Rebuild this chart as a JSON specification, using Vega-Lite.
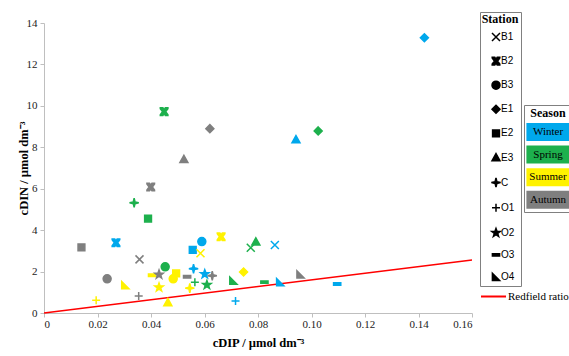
{
  "$schema": "https://vega.github.io/schema/vega-lite/v6.json",
  "width": 428,
  "height": 290,
  "autosize": "none",
  "padding": {"left": 44, "top": 23, "right": 97, "bottom": 43},
  "background": "white",
  "config": {"view": {"stroke": null}, "font": "Liberation Serif"},
  "datasets": {
    "points": [
      {"Station": "B1", "Season": "Winter", "DIP": 0.0863, "DIN": 3.28},
      {"Station": "B2", "Season": "Winter", "DIP": 0.0269, "DIN": 3.39},
      {"Station": "B3", "Season": "Winter", "DIP": 0.0590, "DIN": 3.45},
      {"Station": "E1", "Season": "Winter", "DIP": 0.1422, "DIN": 13.29},
      {"Station": "E2", "Season": "Winter", "DIP": 0.0556, "DIN": 3.05},
      {"Station": "E3", "Season": "Winter", "DIP": 0.0942, "DIN": 8.37},
      {"Station": "C", "Season": "Winter", "DIP": 0.0559, "DIN": 2.14},
      {"Station": "O1", "Season": "Winter", "DIP": 0.0716, "DIN": 0.58},
      {"Station": "O2", "Season": "Winter", "DIP": 0.0601, "DIN": 1.88},
      {"Station": "O3", "Season": "Winter", "DIP": 0.1096, "DIN": 1.40},
      {"Station": "O4", "Season": "Winter", "DIP": 0.0883, "DIN": 1.49},
      {"Station": "B1", "Season": "Spring", "DIP": 0.0773, "DIN": 3.15},
      {"Station": "B2", "Season": "Spring", "DIP": 0.0449, "DIN": 9.72},
      {"Station": "B3", "Season": "Spring", "DIP": 0.0453, "DIN": 2.23},
      {"Station": "E1", "Season": "Spring", "DIP": 0.1025, "DIN": 8.79},
      {"Station": "E2", "Season": "Spring", "DIP": 0.0389, "DIN": 4.56},
      {"Station": "E3", "Season": "Spring", "DIP": 0.0792, "DIN": 3.44},
      {"Station": "C", "Season": "Spring", "DIP": 0.0337, "DIN": 5.32},
      {"Station": "O1", "Season": "Spring", "DIP": 0.0564, "DIN": 1.49},
      {"Station": "O2", "Season": "Spring", "DIP": 0.0609, "DIN": 1.36},
      {"Station": "O3", "Season": "Spring", "DIP": 0.0824, "DIN": 1.49},
      {"Station": "O4", "Season": "Spring", "DIP": 0.0708, "DIN": 1.56},
      {"Station": "B1", "Season": "Summer", "DIP": 0.0585, "DIN": 2.88},
      {"Station": "B2", "Season": "Summer", "DIP": 0.0662, "DIN": 3.68},
      {"Station": "B3", "Season": "Summer", "DIP": 0.0483, "DIN": 1.65},
      {"Station": "E1", "Season": "Summer", "DIP": 0.0746, "DIN": 1.98},
      {"Station": "E2", "Season": "Summer", "DIP": 0.0494, "DIN": 1.91},
      {"Station": "E3", "Season": "Summer", "DIP": 0.0463, "DIN": 0.51},
      {"Station": "C", "Season": "Summer", "DIP": 0.0545, "DIN": 1.20},
      {"Station": "O1", "Season": "Summer", "DIP": 0.0195, "DIN": 0.61},
      {"Station": "O2", "Season": "Summer", "DIP": 0.0430, "DIN": 1.24},
      {"Station": "O3", "Season": "Summer", "DIP": 0.0404, "DIN": 1.82},
      {"Station": "O4", "Season": "Summer", "DIP": 0.0304, "DIN": 1.35},
      {"Station": "B1", "Season": "Autumn", "DIP": 0.0357, "DIN": 2.59},
      {"Station": "B2", "Season": "Autumn", "DIP": 0.0399, "DIN": 6.08},
      {"Station": "B3", "Season": "Autumn", "DIP": 0.0236, "DIN": 1.65},
      {"Station": "E1", "Season": "Autumn", "DIP": 0.0620, "DIN": 8.90},
      {"Station": "E2", "Season": "Autumn", "DIP": 0.0140, "DIN": 3.17},
      {"Station": "E3", "Season": "Autumn", "DIP": 0.0523, "DIN": 7.42},
      {"Station": "C", "Season": "Autumn", "DIP": 0.0629, "DIN": 1.80},
      {"Station": "O1", "Season": "Autumn", "DIP": 0.0354, "DIN": 0.82},
      {"Station": "O2", "Season": "Autumn", "DIP": 0.0430, "DIN": 1.86},
      {"Station": "O3", "Season": "Autumn", "DIP": 0.0535, "DIN": 1.75},
      {"Station": "O4", "Season": "Autumn", "DIP": 0.0959, "DIN": 1.86}
    ],
    "redfield": [
      {"DIP": 0, "DIN": 0},
      {"DIP": 0.16, "DIN": 2.56}
    ]
  },
  "layer": [
    {
      "data": {"name": "redfield"},
      "mark": {"type": "line", "strokeWidth": 1.5},
      "encoding": {
        "x": {"field": "DIP", "type": "quantitative"},
        "y": {"field": "DIN", "type": "quantitative"},
        "color": {
          "datum": "Redfield ratio",
          "scale": {"range": ["#FF0000"]},
          "legend": {
            "title": null,
            "orient": "none",
            "legendX": 436,
            "legendY": 260,
            "padding": 0,
            "symbolType": "stroke",
            "symbolSize": 625,
            "symbolStrokeWidth": 2,
            "labelOffset": 1,
            "labelFont": "Liberation Serif",
            "labelFontSize": 11,
            "labelColor": "black",
            "labelLimit": 200
          }
        }
      }
    },
    {
      "data": {"name": "points"},
      "mark": {"type": "point", "filled": true, "size": 64, "strokeWidth": 1.5, "opacity": 1},
      "encoding": {
        "x": {
          "field": "DIP", "type": "quantitative",
          "scale": {"domain": [0, 0.16], "nice": false},
          "axis": {
            "title": "cDIP / µmol dm⁻³",
            "values": [0, 0.02, 0.04, 0.06, 0.08, 0.1, 0.12, 0.14, 0.16],
            "labelExpr": "datum.value == 0 ? '0' : format(datum.value, '.2f')",
            "grid": false,
            "domainColor": "#BFBFBF",
            "tickColor": "#BFBFBF",
            "tickSize": 4,
            "labelPadding": 1,
            "labelFont": "Liberation Serif",
            "labelFontSize": 11,
            "labelColor": "#222222",
            "titleFont": "Liberation Serif",
            "titleFontSize": 12.5,
            "titleFontWeight": "bold",
            "titleColor": "black",
            "titlePadding": 7
          }
        },
        "y": {
          "field": "DIN", "type": "quantitative",
          "scale": {"domain": [0, 14], "nice": false},
          "axis": {
            "title": "cDIN / µmol dm⁻³",
            "values": [0, 2, 4, 6, 8, 10, 12, 14],
            "grid": false,
            "domainColor": "#BFBFBF",
            "tickColor": "#BFBFBF",
            "tickSize": 4,
            "labelPadding": 3,
            "labelFont": "Liberation Serif",
            "labelFontSize": 11,
            "labelColor": "#222222",
            "titleFont": "Liberation Serif",
            "titleFontSize": 12.5,
            "titleFontWeight": "bold",
            "titleColor": "black",
            "titleX": -21,
            "titleBaseline": "middle"
          }
        },
        "shape": {
          "field": "Station", "type": "nominal",
          "scale": {
            "domain": ["B1", "B2", "B3", "E1", "E2", "E3", "C", "O1", "O2", "O3", "O4"],
            "range": [
              "M-1,-1L1,1M1,-1L-1,1",
              "M-0.95,-0.95H-0.3L0,-0.45L0.3,-0.95H0.95V-0.75L0.4,0L0.95,0.75V0.95H0.3L0,0.45L-0.3,0.95H-0.95V0.75L-0.4,0L-0.95,-0.75Z",
              "circle",
              "M0,-1L1,0L0,1L-1,0Z",
              "M-0.85,-0.85H0.85V0.85H-0.85Z",
              "M0,-1L1,0.8H-1Z",
              "M0,-1.15L0.22,-0.22L1.15,0L0.22,0.22L0,1.15L-0.22,0.22L-1.15,0L-0.22,-0.22Z",
              "M-1,0H1M0,-1V1",
              "M0,-1.1L0.26,-0.36L1.05,-0.34L0.42,0.14L0.65,0.89L0,0.44L-0.65,0.89L-0.42,0.14L-1.05,-0.34L-0.26,-0.36Z",
              "M-0.9,-0.3H0.9V0.3H-0.9Z",
              "M-0.9,-0.9L0.9,0.9H-0.9Z"
            ]
          },
          "legend": {
            "title": "Station",
            "orient": "none",
            "legendX": 436,
            "legendY": -11,
            "padding": 2,
            "strokeColor": "#808080",
            "titleAnchor": "middle",
            "titleFont": "Liberation Serif",
            "titleFontSize": 12,
            "titleFontWeight": "bold",
            "titleColor": "black",
            "titlePadding": 6,
            "labelFont": "Liberation Sans",
            "labelFontSize": 10,
            "labelColor": "black",
            "symbolSize": 64,
            "symbolStrokeWidth": 1.5,
            "symbolOffset": 5,
            "labelOffset": 0,
            "rowPadding": 10.1,
            "symbolFillColor": "black",
            "symbolStrokeColor": "black",
            "encode": {"symbols": {"update": {"fill": {"value": "black"}, "stroke": {"value": "black"}, "opacity": {"value": 1}}}}
          }
        },
        "fill": {
          "field": "Season", "type": "nominal",
          "scale": {"domain": ["Winter", "Spring", "Summer", "Autumn"], "range": ["#00A8EC", "#1DB04D", "#FFF200", "#7F7F7F"]},
          "legend": {
            "title": "Season",
            "orient": "none",
            "legendX": 480,
            "legendY": 82,
            "padding": 3,
            "strokeColor": "#808080",
            "titleAnchor": "middle",
            "titleFont": "Liberation Serif",
            "titleFontSize": 12,
            "titleFontWeight": "bold",
            "titleColor": "black",
            "titlePadding": 3,
            "symbolType": "M-2.4,-1H2.4V1H-2.4Z",
            "symbolSize": 324,
            "symbolStrokeWidth": 0,
            "symbolOffset": 12,
            "labelOffset": -9,
            "labelAlign": "center",
            "labelFont": "Liberation Serif",
            "labelFontSize": 11,
            "labelColor": "black",
            "rowPadding": 4.6,
            "encode": {"symbols": {"update": {"opacity": {"value": 1}, "strokeWidth": {"value": 0}}}}
          }
        },
        "stroke": {
          "field": "Season", "type": "nominal",
          "scale": {"domain": ["Winter", "Spring", "Summer", "Autumn"], "range": ["#00A8EC", "#1DB04D", "#FFF200", "#7F7F7F"]},
          "legend": null
        }
      }
    }
  ]
}
